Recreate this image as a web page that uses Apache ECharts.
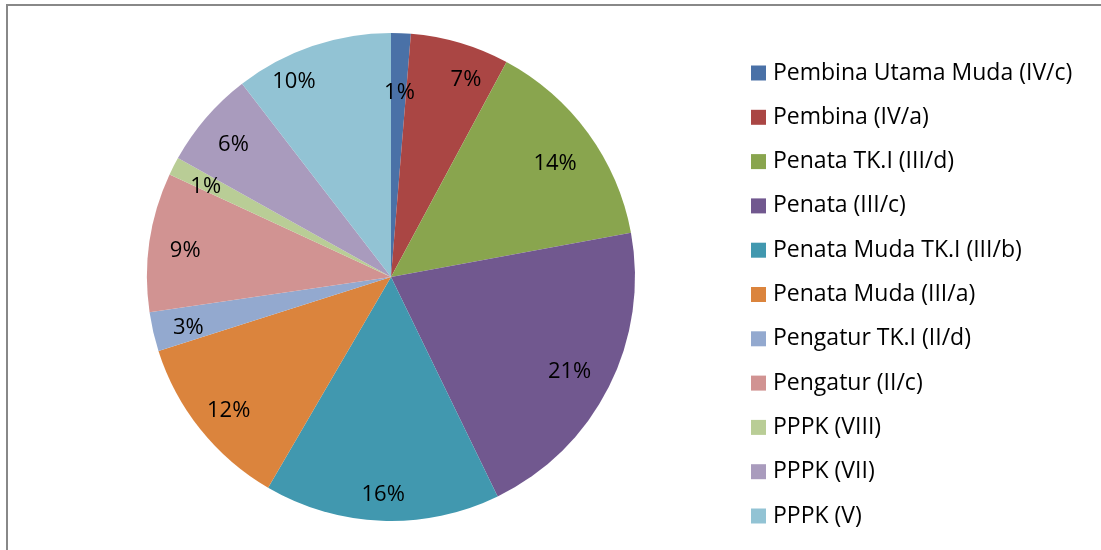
<!DOCTYPE html>
<html>
<head>
<meta charset="utf-8">
<script src="https://cdn.jsdelivr.net/npm/echarts@6/dist/echarts.min.js"></script>
<style>
    html,body{margin:0;padding:0;background:#fff;}
    #chart{width:1101px;height:550px;}
</style>
</head>
<body>
<div id="chart"></div>
<script>
var categories = ['Pembina Utama Muda (IV/c)', 'Pembina (IV/a)', 'Penata TK.I (III/d)', 'Penata (III/c)',
    'Penata Muda TK.I (III/b)', 'Penata Muda (III/a)', 'Pengatur TK.I (II/d)', 'Pengatur (II/c)',
    'PPPK (VIII)', 'PPPK (VII)', 'PPPK (V)'];
var shares = [1.3, 6.55, 14.25, 20.7, 15.6, 11.7, 2.6, 9.2, 1.2, 6.45, 10.45];
var colors = ['#4a71a7', '#aa4644', '#89a54e', '#71588f', '#4198af', '#db843d',
    '#93a9cf', '#d19392', '#b9cd96', '#a99bbd', '#92c3d4'];

var font = '"Open Sans", sans-serif';
var R = 244;
var legendSize = 23;

function nudge(p){
    // small per-label shifts to mimic Excel's "best fit" placement
    switch(p.dataIndex){
        case 0: return {dy: 24};
        case 1: return {dx: 16, dy: 2};
        case 2: return {dx: -4, dy: 9};
        case 3: return {dx: -7, dy: 1};
        case 4: return {dy: 10};
        case 10: return {dx: -30, dy: 2};
        default: return {dy: 4};
    }
}

var chart = echarts.init(document.getElementById('chart'));
chart.setOption({
    animation: false,
    graphic: [{
        type: 'rect',
        shape: {x: 7, y: 5, width: 1200, height: 600},
        style: {fill: 'none', stroke: '#888', lineWidth: 2},
        silent: true
    }],
    legend: {
        orient: 'vertical',
        left: 746,
        top: 73 - 5 - legendSize / 2,
        icon: 'rect',
        itemWidth: 15,
        itemHeight: 15,
        itemGap: 44.3 - legendSize,
        textStyle: {fontFamily: font, fontSize: legendSize, color: '#000', padding: [0, 0, 0, 2]},
        data: categories
    },
    series: [{
        type: 'pie',
        center: [391, 277],
        radius: [0, R],
        startAngle: 90,
        clockwise: true,
        label: {show: false},
        labelLine: {show: false},
        emphasis: {disabled: true},
        itemStyle: {borderWidth: 0},
        data: categories.map(function(name, i){
            return {name: name, value: shares[i], itemStyle: {color: colors[i]}};
        })
    }, {
        // label-only ring so the text sits near the rim, like the original
        type: 'pie',
        center: [391, 277],
        radius: [R * 0.68, R],
        startAngle: 90,
        clockwise: true,
        silent: true,
        emphasis: {disabled: true},
        itemStyle: {color: 'transparent', borderWidth: 0},
        labelLine: {show: false},
        label: {
            show: true,
            position: 'inside',
            fontFamily: font,
            fontSize: 22,
            color: '#000',
            formatter: function(p){ return Math.round(p.percent) + '%'; }
        },
        labelLayout: nudge,
        data: categories.map(function(name, i){ return {name: name, value: shares[i]}; })
    }]
});
</script>
</body>
</html>
